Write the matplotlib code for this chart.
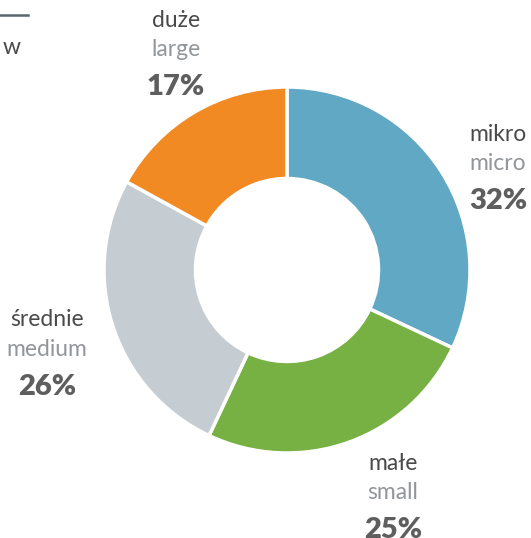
import matplotlib.pyplot as plt

# company size shares
labels_pl = ['mikro', 'małe', 'średnie', 'duże']
labels_en = ['micro', 'small', 'medium', 'large']
shares = [32, 25, 26, 17]
colors = ['#60a8c3', '#77b043', '#c6cdd2', '#f28a24']

# label anchor points (pie radius = 1)
label_pos = [(1.153, 0.743), (0.579, -1.055), (-1.311, -0.273), (-0.607, 1.366)]

plt.rcParams['font.family'] = ['Lato', 'DejaVu Sans']

fig = plt.figure(figsize=(5.31, 5.38), dpi=100)
ax = fig.add_axes([0, 0, 1, 1])

ax.pie(shares, colors=colors, startangle=90, counterclock=False, radius=1,
       wedgeprops=dict(width=0.5, edgecolor='white', linewidth=2.5))

for (x, y), pl, en, s in zip(label_pos, labels_pl, labels_en, shares):
    ax.text(x, y, pl, ha='center', va='center', fontsize=16.5,
            color='#4a4a4a')
    ax.text(x, y - 0.16, en, ha='center', va='center', fontsize=16.5,
            color='#92969a')
    ax.text(x, y - 0.365, f'{s}%', ha='center', va='center', fontsize=21,
            fontweight='heavy', color='#5e5e5e')

# cut-off legend fragment at top left
ax.plot([-1.57, -1.415], [1.393, 1.393], color='#5a6770', lw=1.8, clip_on=False)
ax.text(-1.455, 1.218, 'w', ha='right', va='center', fontsize=16.5,
        color='#4a4a4a')

ax.set_xlim(-287 / 183, (531 - 287) / 183)
ax.set_ylim(-(538 - 270) / 183, 270 / 183)
ax.set_aspect('equal')
ax.axis('off')

fig.savefig('out.png', dpi=100, facecolor='white')
